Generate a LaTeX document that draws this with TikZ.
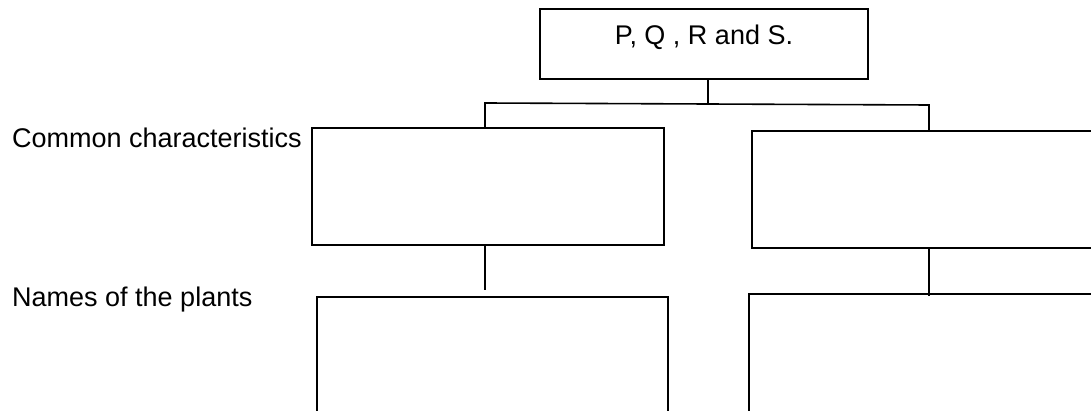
\documentclass[tikz,border=0pt]{standalone}
\usepackage{fontspec}
\setmainfont{Liberation Sans}
\usetikzlibrary{positioning}

\begin{document}
\begin{tikzpicture}[x=1pt,y=-1pt,
  box/.style={draw,line width=1.6pt,rectangle,inner sep=0pt,font=\fontsize{27}{32}\selectfont},
  rowlabel/.style={anchor=base west,inner sep=0pt,font=\fontsize{27}{32}\selectfont},
  conn/.style={line width=1.6pt},
]
\useasboundingbox (0,0) rectangle (1091,411);
\clip (0,0) rectangle (1091,411);
\node[box,minimum width=328pt,minimum height=70pt,text height=19pt,text depth=17pt] (group) at (704,44) {P, Q , R and S.};
\node[box,anchor=north west,minimum width=352pt,minimum height=117pt] (charl) at (311,127) {};
\node[box,anchor=north west,minimum width=380pt,minimum height=117pt] (charr) at (751,130) {};
\node[box,anchor=north west,minimum width=351pt,minimum height=150pt] (plantl) at (316,296) {};
\node[box,anchor=north west,minimum width=380pt,minimum height=150pt] (plantr) at (748,293) {};
\node[rowlabel] (lblchar) at (12,148) {Common characteristics};
\node[rowlabel] (lblplant) at (12,306) {Names of the plants};
\coordinate (jl) at (485,103);
\coordinate (jm) at (708,104);
\coordinate (jr) at (929,105);
\draw[conn] (group.south -| jm) -- (jm);
\draw[conn] (jl |- charl.north) -- (jl) -- (jr) -- (jr |- charr.north);
\draw[conn] (charl.south -| jl) -- ([yshift=6pt]plantl.north -| jl);
\draw[conn] (charr.south -| jr) -- ([yshift=-3pt]plantr.north -| jr);
\end{tikzpicture}
\end{document}
